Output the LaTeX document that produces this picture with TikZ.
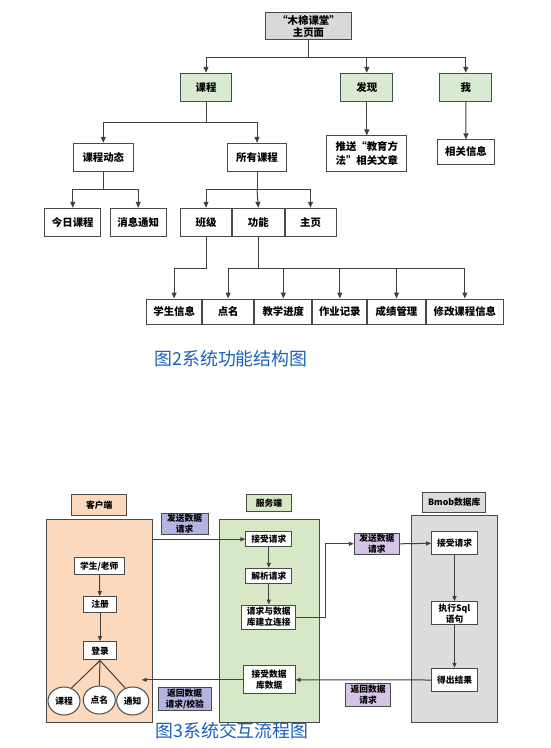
\documentclass[tikz,border=0pt]{standalone}
\usepackage{fontspec}
\setmainfont{Noto Sans CJK SC}
\usetikzlibrary{arrows.meta,positioning,shapes.geometric}
\definecolor{edge}{HTML}{4A4A4A}
\definecolor{wire}{HTML}{404040}
\definecolor{homebg}{HTML}{D9D9D9}
\definecolor{tabbg}{HTML}{D9EAD3}
\definecolor{clibg}{HTML}{FCD8BC}
\definecolor{srvbg}{HTML}{D7E8C6}
\definecolor{dbbg}{HTML}{DCDCDC}
\definecolor{msgbg}{HTML}{B4B4E2}
\definecolor{sqlbg}{HTML}{D6C3E6}
\definecolor{cap}{HTML}{1A5FC0}

\begin{document}
\begin{tikzpicture}[x=1pt,y=-1pt,>={Triangle[length=6pt,width=5pt]},
  box/.style={draw=edge,line width=1pt,fill=white,inner sep=0pt,align=center,
              minimum height=28.4pt,font=\fontsize{10.4}{12.5}\selectfont\bfseries},
  sbox/.style={box,font=\fontsize{8.75}{11}\selectfont\bfseries},
  link/.style={draw=wire,line width=1pt},
  slink/.style={link,>={Triangle[length=5pt,width=4pt]}},
  caption/.style={font=\fontsize{17.9}{20}\selectfont,text=cap,inner sep=0pt}]
  \useasboundingbox (0,0) rectangle (550,748);

  % ---- figure 2: function tree
  \node[box,fill=homebg,minimum width=85.6pt,minimum height=27.3pt,
        font=\fontsize{10.4}{11.7}\selectfont\bfseries] (home) at (308.5,26.3) {“木棉课堂”\\主页面};
  \node[box,fill=tabbg,minimum width=51.7pt] (course) at (206,87.5) {课程};
  \node[box,fill=tabbg,minimum width=51.7pt] (find) at (366.8,87.5) {发现};
  \node[box,fill=tabbg,minimum width=51.7pt] (me) at (465.8,87.5) {我};
  \draw[link] (home.south) -- ++(0,16.7) coordinate (hj);
  \draw[link,->] (hj) -| (course.north);
  \draw[link,->] (hj) -| (find.north);
  \draw[link,->] (hj) -| (me.north);

  \node[box,minimum width=60pt] (news) at (103.3,157.5) {课程动态};
  \node[box,minimum width=59.4pt] (all) at (257,157.5) {所有课程};
  \node[box,minimum width=79.7pt,minimum height=35.7pt,
        font=\fontsize{10.4}{14}\selectfont\bfseries] (push) at (366.8,153.8) {推送“教育方\\法”相关文章};
  \node[box,minimum width=57.7pt,minimum height=24.3pt] (info) at (466,152) {相关信息};
  \draw[link] (course.south) -- ++(0,20.6) coordinate (cj);
  \draw[link,->] (cj) -| (news.north);
  \draw[link,->] (cj) -| (all.north);
  \draw[link,->] (find) -- (push);
  \draw[link,->] (me) -- (info);

  \node[box,minimum width=55.7pt] (today) at (72.8,222.5) {今日课程};
  \node[box,minimum width=55.7pt] (notice) at (138.2,222.5) {消息通知};
  \draw[link] (news.south) -- ++(0,17.6) coordinate (nj);
  \draw[link,->] (nj) -| (today.north);
  \draw[link,->] (nj) -| (notice.north);

  \node[box,minimum width=51.4pt] (klass) at (206,222.5) {班级};
  \node[box,minimum width=51.3pt,right=0pt of klass] (func) {功能};
  \node[box,minimum width=51pt,right=0pt of func] (main) {主页};
  \draw[link] (all.south) -- ++(0,17.6) coordinate (aj);
  \draw[link,->] (aj) -| (klass.north);
  \draw[link,->] (aj) -- (func.north);
  \draw[link,->] (aj) -| (main.north);

  \node[box,minimum width=54.7pt,minimum height=25pt,anchor=west] (stu) at (146.3,311.5) {学生信息};
  \node[box,minimum width=51.3pt,minimum height=25pt,right=0pt of stu] (roll) {点名};
  \node[box,minimum width=57pt,minimum height=25pt,right=0pt of roll] (prog) {教学进度};
  \node[box,minimum width=54pt,minimum height=25pt,right=0pt of prog] (hw) {作业记录};
  \node[box,minimum width=57.4pt,minimum height=25pt,right=0pt of hw] (score) {成绩管理};
  \node[box,minimum width=77.3pt,minimum height=25pt,right=0pt of score] (edit) {修改课程信息};
  \draw[link,->] (klass.south) -- ++(0,31) -| (stu.north);
  \draw[link] (func.south) -- ++(0,31) coordinate (fj);
  \foreach \t in {roll,prog,hw,score,edit}
    \draw[link,->] (fj) -| (\t.north);

  \node[caption] (cap2) at (231,359) {图2系统功能结构图};

  % ---- figure 3: interaction flow
  \node[draw=edge,line width=1pt,fill=clibg,minimum width=106pt,minimum height=203.4pt,
        inner sep=0pt] (cli) at (99.7,621) {};
  \node[draw=edge,line width=1pt,fill=srvbg,minimum width=100.3pt,minimum height=203.4pt,
        inner sep=0pt] (srv) at (269.2,621) {};
  \node[draw=edge,line width=1pt,fill=dbbg,minimum width=85.6pt,minimum height=207.7pt,
        inner sep=0pt] (db) at (454.5,618.9) {};
  \node[sbox,fill=clibg,minimum width=54.7pt,minimum height=21pt] (clilbl) at (99.3,504.8) {客户端};
  \node[sbox,fill=srvbg,minimum width=45.4pt,minimum height=17.4pt] (srvlbl) at (269,503) {服务端};
  \node[sbox,fill=dbbg,minimum width=63.3pt,minimum height=19.6pt] (dblbl) at (454.3,502.5) {Bmob数据库};

  % client side
  \node[sbox,minimum width=50pt,minimum height=17.3pt] (user) at (99.3,566.3) {学生/老师};
  \node[sbox,minimum width=33.3pt,minimum height=15.6pt] (reg) at (100,604.5) {注册};
  \node[sbox,minimum width=33.3pt,minimum height=18.3pt] (login) at (100,650.8) {登录};
  \node[sbox,ellipse,minimum width=32pt,minimum height=28pt] (ekc) at (64,701) {课程};
  \node[sbox,ellipse,minimum width=32pt,minimum height=28pt] (edm) at (99.3,700) {点名};
  \node[sbox,ellipse,minimum width=32pt,minimum height=28pt] (etz) at (132.7,701) {通知};
  \draw[slink,->] (user) -- (reg);
  \draw[slink,->] (reg) -- (login);
  \draw[link] (login.south) -- (ekc.60);
  \draw[link] (login.south) -- (edm.north);
  \draw[link] (login.south) -- (etz.120);

  % server side
  \node[sbox,minimum width=45.7pt,minimum height=15pt] (sreq) at (268.8,539.2) {接受请求};
  \node[sbox,minimum width=45.7pt,minimum height=15pt] (parse) at (268.8,575.8) {解析请求};
  \node[sbox,minimum width=53.7pt,minimum height=24pt] (conn) at (268.8,617) {请求与数据\\库建立连接};
  \node[sbox,minimum width=51.7pt,minimum height=28.3pt] (recv) at (269.2,679.8) {接受数据\\库数据};
  \draw[slink,->] (sreq) -- (parse);
  \draw[slink,->] (parse) -- (conn);

  % database side
  \node[sbox,minimum width=45.6pt,minimum height=23.3pt] (dreq) at (454.5,543.3) {接受请求};
  \node[sbox,minimum width=45.6pt,minimum height=23.3pt] (exec) at (454.5,613.3) {执行Sql\\语句};
  \node[sbox,minimum width=45.6pt,minimum height=23.3pt] (res) at (454.5,680) {得出结果};
  \draw[slink,->] (dreq) -- (exec);
  \draw[slink,->] (exec) -- (res);

  % messages
  \node[sbox,fill=msgbg,minimum width=47pt,minimum height=21pt] (send1) at (184.5,523.8) {发送数据\\请求};
  \node[sbox,fill=msgbg,minimum width=52.7pt,minimum height=23.4pt] (back1) at (184.7,699) {返回数据\\请求/校验};
  \node[sbox,fill=sqlbg,minimum width=45pt,minimum height=21pt] (send2) at (376.8,543.8) {发送数据\\请求};
  \node[sbox,fill=sqlbg,minimum width=45.4pt,minimum height=23.4pt] (back2) at (368,695) {返回数据\\请求};
  \coordinate (cliin) at (141.7,679.8);
  \draw[slink,->] (sreq.west -| cli.east) -- (sreq.west);
  \draw[slink,->] (conn.east) -- ++(29.6,0) |- (send2.west);
  \draw[slink,->] (send2.east) -- (dreq.west);
  \draw[slink,->] (res.west) -- (recv.east);
  \draw[slink,->] (recv.west) -- (cliin);

  \node[caption] (cap3) at (232,731) {图3系统交互流程图};
\end{tikzpicture}
\end{document}
